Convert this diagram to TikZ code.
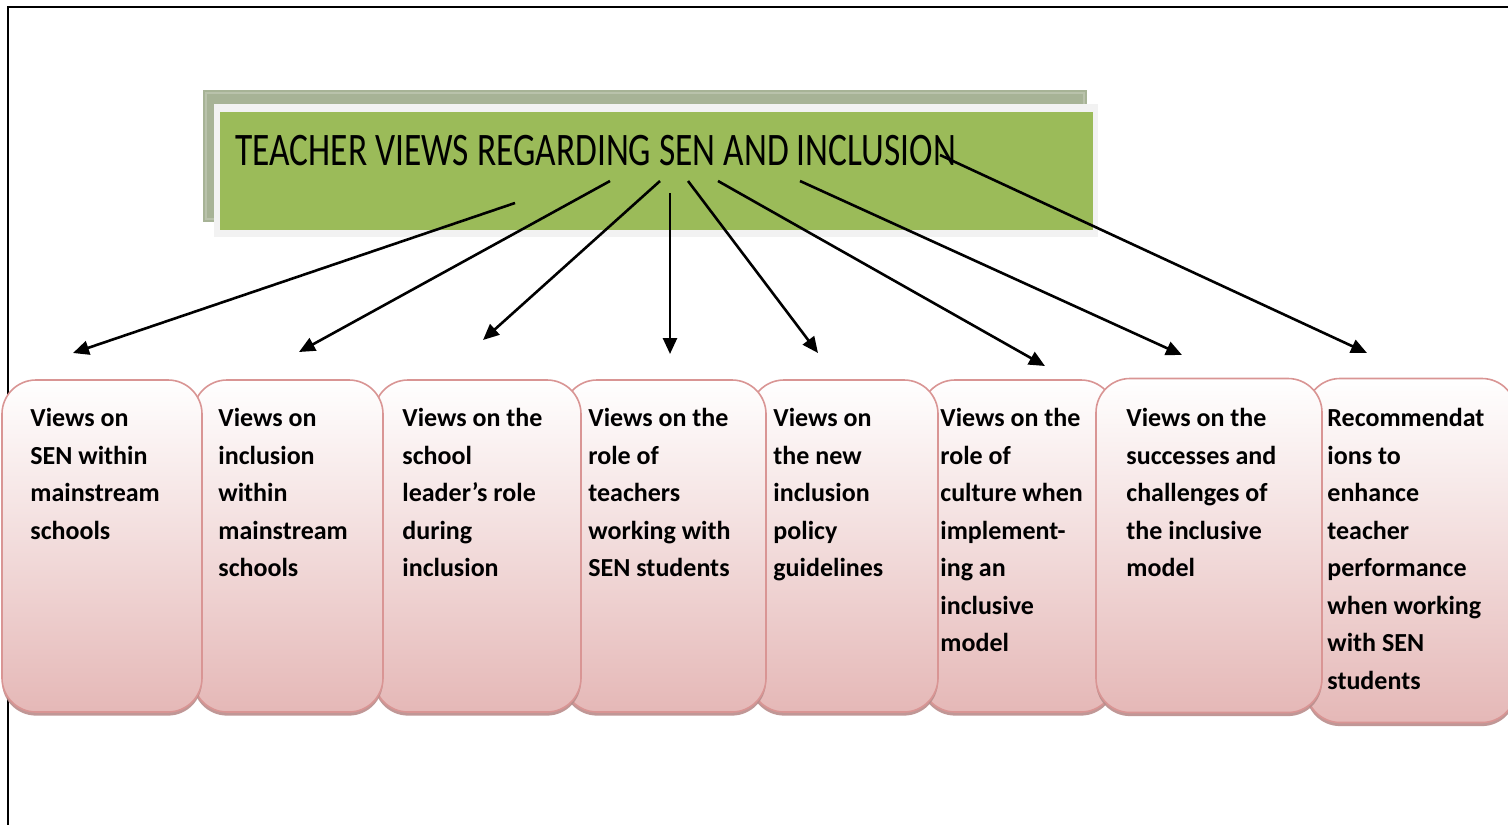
\documentclass[tikz,border=0pt]{standalone}
\usepackage{fontspec}
\setmainfont{Carlito}
\newfontfamily\headfont[FakeStretch=0.76]{Carlito}
\usetikzlibrary{arrows.meta,shadows}

\definecolor{head fill}{HTML}{9BBB59}
\definecolor{head back}{HTML}{A7B396}
\definecolor{head rim}{HTML}{F2F2F2}
\definecolor{view edge}{HTML}{D99594}
\definecolor{view bottom}{HTML}{E5B8B7}
\definecolor{view shade}{HTML}{B98C8B}
\tikzset{viewbox/.style={draw=view edge, line width=0.8pt, rounded corners=17pt,
      top color=white, bottom color=view bottom, inner sep=0pt,
      drop shadow={shadow xshift=0pt, shadow yshift=-1.8pt, fill=view shade, opacity=0.9}},
    viewtext/.style={anchor=north west, inner sep=0pt, align=left,
      font=\fontsize{13}{18.75}\selectfont\bfseries},
    link/.style={line width=1.3pt, -{Triangle[length=8pt,width=7pt]}}}

\begin{document}
\begin{tikzpicture}[x=0.5pt,y=-0.5pt]
    \useasboundingbox (0,0) rectangle (1508,825);
    % page frame
    \draw[line width=1pt] (1508,7) -- (8,7) -- (8,825);
    % heading
    \fill[head back] (203,90) rectangle (1087,222);
    \draw[head back!80!white, line width=0.6pt] (206,93) rectangle (1084,219);
    \fill[head rim] (214,104) rectangle (1098,237);
    \node[fill=head fill, minimum width=436.5pt, minimum height=59pt, inner sep=0pt]
      (head) at (656.5,171) {};
    \node[anchor=base west, inner sep=0pt, font=\headfont\fontsize{23.3}{28}\selectfont]
      (headtext) at (235,165) {TEACHER VIEWS REGARDING SEN AND INCLUSION};
    % boxes
    \node[viewbox, minimum width=105pt, minimum height=172pt] (b8) at (1411,550.5) {};
    \node[viewbox, minimum width=97pt, minimum height=166pt] (b6) at (1018,546) {};
    \node[viewbox, minimum width=113pt, minimum height=167pt] (b7) at (1209,545.5) {};
    \node[viewbox, minimum width=94pt, minimum height=166pt] (b5) at (844,546) {};
    \node[viewbox, minimum width=101.5pt, minimum height=166pt] (b4) at (664.5,546) {};
    \node[viewbox, minimum width=103.5pt, minimum height=166pt] (b3) at (477.5,546) {};
    \node[viewbox, minimum width=95pt, minimum height=166pt] (b2) at (288,546) {};
    \node[viewbox, minimum width=100pt, minimum height=166pt] (b1) at (102,546) {};
    \node[viewtext] (t1) at (30,408) {Views on\\SEN within\\mainstream\\schools};
    \node[viewtext] (t2) at (218,408) {Views on\\inclusion\\within\\mainstream\\schools};
    \node[viewtext] (t3) at (402,408) {Views on the\\school\\leader’s role\\during\\inclusion};
    \node[viewtext] (t4) at (588,408) {Views on the\\role of\\teachers\\working with\\SEN students};
    \node[viewtext] (t5) at (773,408) {Views on\\the new\\inclusion\\policy\\guidelines};
    \node[viewtext] (t6) at (940,408) {Views on the\\role of\\culture when\\implement-\\ing an\\inclusive\\model};
    \node[viewtext] (t7) at (1126,408) {Views on the\\successes and\\challenges of\\the inclusive\\model};
    \node[viewtext] (t8) at (1327,408) {Recommendat\\ions to\\enhance\\teacher\\performance\\when working\\with SEN\\students};
    % arrow ends
    \coordinate (s1) at (515,203);  \coordinate (e1) at (73,353);
    \coordinate (s2) at (610,181);  \coordinate (e2) at (299,352);
    \coordinate (s3) at (660,181);  \coordinate (e3) at (483,340);
    \coordinate (s4) at (670,193);  \coordinate (e4) at (670,354);
    \coordinate (s5) at (688,181);  \coordinate (e5) at (818,353);
    \coordinate (s6) at (718,181);  \coordinate (e6) at (1045,366);
    \coordinate (s7) at (800,181);  \coordinate (e7) at (1182,355);
    \coordinate (s8) at (940,155);  \coordinate (e8) at (1367,353);
    \draw[link] (s1) -- (e1);
    \draw[link] (s2) -- (e2);
    \draw[link] (s3) -- (e3);
    \draw[link] (s4) -- (e4);
    \draw[link] (s5) -- (e5);
    \draw[link] (s6) -- (e6);
    \draw[link] (s7) -- (e7);
    \draw[link] (s8) -- (e8);
\end{tikzpicture}
\end{document}
